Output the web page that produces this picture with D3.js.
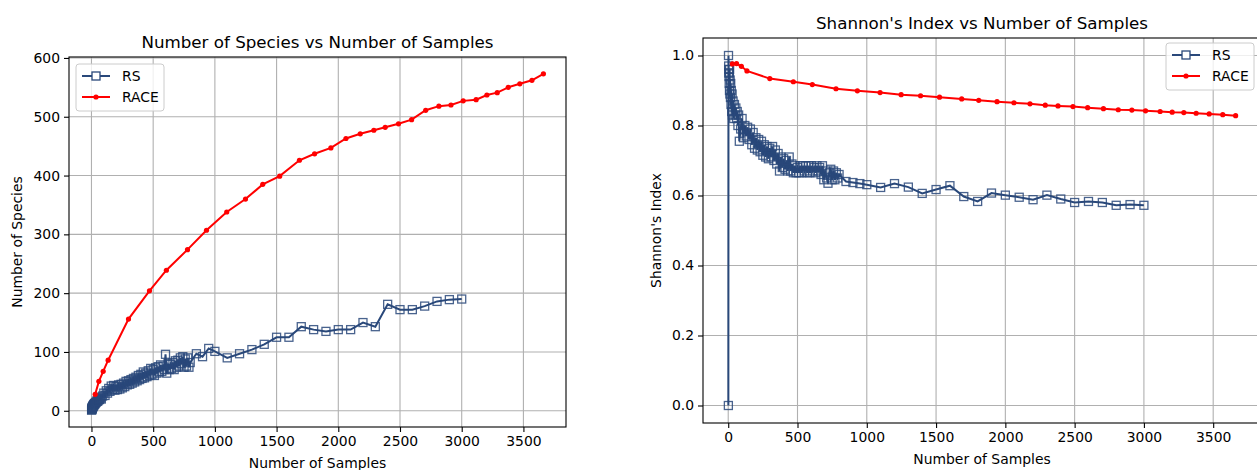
<!DOCTYPE html>
<html>
<head>
<meta charset="utf-8">
<script src="https://cdn.jsdelivr.net/npm/d3@7"></script>
<style>
  body { margin: 0; background: #fff; }
  svg { font-family: "DejaVu Sans", sans-serif; }
</style>
</head>
<body>
<svg id="fig" width="1257" height="470"></svg>
<script>
// RACE runs (one point per batch)
const raceSamples = [30, 60, 95, 135, 300, 470, 607, 778, 932, 1096, 1248, 1388, 1525, 1685, 1808, 1940, 2062,
  2178, 2288, 2380, 2488, 2594, 2708, 2815, 2913, 3012, 3117, 3204, 3288, 3377, 3471, 3569, 3662];
const raceSpecies = [28, 50, 67, 86, 156, 204, 239, 274, 307, 338, 360, 385, 399, 426, 437, 447, 463,
  471, 477, 482, 488, 495, 511, 518, 520, 527, 529, 537, 541, 550, 556, 562, 573];
const raceShannon = [0.976, 0.977, 0.969, 0.956, 0.934, 0.925, 0.917, 0.905, 0.899, 0.894, 0.888, 0.885, 0.881,
  0.876, 0.872, 0.868, 0.865, 0.862, 0.858, 0.856, 0.854, 0.851, 0.848, 0.845, 0.844, 0.842, 0.840,
  0.838, 0.837, 0.835, 0.833, 0.831, 0.828];

// RS runs: dense up to 800 samples, then every 50/100
const rsSamples = [1, 2, 3, 4, 5, 6, 7, 8, 9, 10, 12, 14, 16, 18, 20, 22, 25, 28, 30, 35, 40, 45, 50, 55, 60, 65, 70, 75, 80,
  90, 100, 110, 120, 130, 140, 150, 160, 170, 180, 190, 200, 210, 220, 230, 240, 250, 260, 270, 280, 290,
  300, 310, 320, 330, 340, 350, 360, 370, 380, 390, 400, 410, 420, 430, 440, 450, 460, 470, 480, 490,
  500, 510, 520, 530, 540, 550, 560, 570, 580, 590, 600, 610, 620, 630, 640, 650, 660, 670, 680, 690,
  700, 710, 720, 730, 740, 750, 760, 770, 780, 790, 800,
  850, 900, 950, 1000, 1100, 1200, 1300, 1400, 1500, 1600, 1700, 1800, 1900, 2000, 2100, 2200, 2300,
  2400, 2500, 2600, 2700, 2800, 2900, 3000];
const rsSpecies = [1, 2, 3, 3, 4, 5, 5, 6, 6, 7, 8, 8, 9, 10, 10, 11, 12, 12, 13, 14, 15, 17, 16, 18, 20, 19, 21, 23, 20,
  25, 30, 26, 34, 30, 38, 33, 42, 36, 43, 35, 41, 36, 44, 37, 45, 39, 47, 41, 50, 44,
  51, 45, 53, 47, 55, 49, 57, 51, 60, 53, 62, 55, 66, 56, 64, 58, 68, 60, 72, 62,
  70, 60, 73, 64, 75, 66, 78, 67, 76, 70, 96, 64, 80, 70, 79, 72, 82, 70, 85, 74,
  86, 76, 90, 80, 92, 74, 88, 76, 90, 74, 82,
  97, 92, 106, 101, 90, 97, 104, 113, 125, 125, 143, 138, 135, 138, 138, 150, 143,
  181, 172, 172, 178, 186, 189, 190];
const rsShannon = [0.00, 1.00, 0.97, 0.95, 0.96, 0.94, 0.92, 0.95, 0.90, 0.96, 0.89, 0.93, 0.88, 0.92, 0.86, 0.90, 0.84,
  0.89, 0.83, 0.87, 0.82, 0.86, 0.83, 0.85, 0.82, 0.84, 0.80, 0.83, 0.755,
  0.79, 0.82, 0.765, 0.80, 0.77, 0.795, 0.76, 0.79, 0.745, 0.78, 0.735, 0.765, 0.73, 0.76, 0.725, 0.755, 0.715,
  0.745, 0.71, 0.74, 0.705, 0.735, 0.71, 0.74, 0.70, 0.73, 0.69, 0.72, 0.67, 0.71, 0.68,
  0.705, 0.675, 0.70, 0.67, 0.71, 0.67, 0.69, 0.665, 0.685, 0.665, 0.68, 0.665, 0.685, 0.665, 0.685,
  0.67, 0.685, 0.665, 0.685, 0.665, 0.685, 0.67, 0.68, 0.665, 0.685, 0.67, 0.68, 0.66, 0.685, 0.645,
  0.67, 0.65, 0.635, 0.665, 0.675, 0.645, 0.67, 0.645, 0.665, 0.65, 0.66,
  0.640, 0.637, 0.634, 0.631, 0.623, 0.634, 0.624, 0.606, 0.617, 0.628, 0.597, 0.583, 0.607, 0.601,
  0.595, 0.588, 0.601, 0.590, 0.580, 0.583, 0.580, 0.572, 0.574, 0.572];

const xTicks = [0, 500, 1000, 1500, 2000, 2500, 3000, 3500];
const speciesTicks = [0, 100, 200, 300, 400, 500, 600];
const shannonTicks = [0.0, 0.2, 0.4, 0.6, 0.8, 1.0];

const RS_COL = '#29487a';
const RACE_COL = '#ff0000';

const svg = d3.select('#fig');

// matplotlib-like 5% margins around the data
function padded(vals) {
  const [lo, hi] = d3.extent(vals);
  const m = (hi - lo) * 0.05;
  return [lo - m, hi + m];
}

function panel(o) {
  const g = svg.append('g');
  const x = d3.scaleLinear().domain(padded(rsSamples.concat(raceSamples))).range([o.left, o.right]);
  const y = d3.scaleLinear().domain(padded(o.rs.concat(o.race))).range([o.bottom, o.top]);

  // grid
  g.append('g').selectAll('line').data(o.xTicks).join('line')
    .attr('x1', d => x(d)).attr('x2', d => x(d))
    .attr('y1', o.top).attr('y2', o.bottom)
    .attr('stroke', '#b0b0b0').attr('stroke-width', 1.1);
  g.append('g').selectAll('line').data(o.yTicks).join('line')
    .attr('y1', d => y(d)).attr('y2', d => y(d))
    .attr('x1', o.left).attr('x2', o.right)
    .attr('stroke', '#b0b0b0').attr('stroke-width', 1.1);

  // RS series
  const rsPts = rsSamples.map((s, i) => [s, o.rs[i]]);
  const line = d3.line().x(d => x(d[0])).y(d => y(d[1]));
  g.append('path').datum(rsPts).attr('d', line)
    .attr('fill', 'none').attr('stroke', RS_COL).attr('stroke-width', 2);
  g.append('g').selectAll('rect').data(rsPts).join('rect')
    .attr('x', d => x(d[0]) - 4).attr('y', d => y(d[1]) - 4)
    .attr('width', 8).attr('height', 8)
    .attr('fill', 'none').attr('stroke', RS_COL).attr('stroke-width', 1.3).attr('stroke-opacity', 0.85);

  // RACE series
  const racePts = raceSamples.map((s, i) => [s, o.race[i]]);
  g.append('path').datum(racePts).attr('d', line)
    .attr('fill', 'none').attr('stroke', RACE_COL).attr('stroke-width', 2);
  g.append('g').selectAll('circle').data(racePts).join('circle')
    .attr('cx', d => x(d[0])).attr('cy', d => y(d[1])).attr('r', 2.6)
    .attr('fill', RACE_COL);

  // frame
  g.append('rect').attr('x', o.left).attr('y', o.top)
    .attr('width', o.right - o.left).attr('height', o.bottom - o.top)
    .attr('fill', 'none').attr('stroke', '#000').attr('stroke-width', 1.1);

  // axes
  const ax = g.append('g').attr('transform', `translate(0,${o.bottom})`)
    .call(d3.axisBottom(x).tickValues(o.xTicks).tickSize(5).tickPadding(4).tickFormat(d3.format('d')));
  const ay = g.append('g').attr('transform', `translate(${o.left},0)`)
    .call(d3.axisLeft(y).tickValues(o.yTicks).tickSize(5).tickPadding(4).tickFormat(o.fmt));
  [ax, ay].forEach(a => {
    a.select('.domain').remove();
    a.selectAll('line').attr('stroke', '#000').attr('stroke-width', 1.1);
    a.selectAll('text').attr('font-size', '13.9px').attr('fill', '#000')
      .attr('font-family', '"DejaVu Sans", sans-serif');
  });

  // title and labels
  g.append('text').attr('x', (o.left + o.right) / 2).attr('y', o.top - 9)
    .attr('text-anchor', 'middle').attr('font-size', '16.7px').text(o.title);
  g.append('text').attr('x', (o.left + o.right) / 2).attr('y', o.bottom + 41)
    .attr('text-anchor', 'middle').attr('font-size', '13.9px').text('Number of Samples');
  g.append('text')
    .attr('transform', `translate(${o.ylabX},${(o.top + o.bottom) / 2}) rotate(-90)`)
    .attr('text-anchor', 'middle').attr('font-size', '13.9px').text(o.ylabel);

  // legend
  const lg = g.append('g').attr('transform', `translate(${o.legX},${o.legY})`);
  lg.append('rect').attr('width', 88).attr('height', 47).attr('rx', 3)
    .attr('fill', '#fff').attr('fill-opacity', 0.8)
    .attr('stroke', '#cccccc').attr('stroke-width', 1);
  const items = [{ name: 'RS', col: RS_COL, mk: 'sq' }, { name: 'RACE', col: RACE_COL, mk: 'dot' }];
  items.forEach((it, i) => {
    const cy = 12 + i * 21;
    lg.append('line').attr('x1', 6).attr('x2', 34).attr('y1', cy).attr('y2', cy)
      .attr('stroke', it.col).attr('stroke-width', 2);
    if (it.mk === 'sq') {
      lg.append('rect').attr('x', 16).attr('y', cy - 4).attr('width', 8).attr('height', 8)
        .attr('fill', '#fff').attr('stroke', it.col).attr('stroke-width', 1.3);
    } else {
      lg.append('circle').attr('cx', 20).attr('cy', cy).attr('r', 2.6).attr('fill', it.col);
    }
    lg.append('text').attr('x', 46).attr('y', cy + 5).attr('font-size', '13.9px').text(it.name);
  });
}

panel({
  left: 69, right: 566, top: 57, bottom: 427,
  rs: rsSpecies, race: raceSpecies,
  xTicks: xTicks, yTicks: speciesTicks, fmt: d3.format('d'),
  title: 'Number of Species vs Number of Samples', ylabel: 'Number of Species', ylabX: 22,
  legX: 76, legY: 64
});

panel({
  left: 703, right: 1261, top: 38, bottom: 423,
  rs: rsShannon, race: raceShannon,
  xTicks: xTicks, yTicks: shannonTicks, fmt: d3.format('.1f'),
  title: "Shannon's Index vs Number of Samples", ylabel: "Shannon's Index", ylabX: 661,
  legX: 1166, legY: 43
});
</script>
</body>
</html>
